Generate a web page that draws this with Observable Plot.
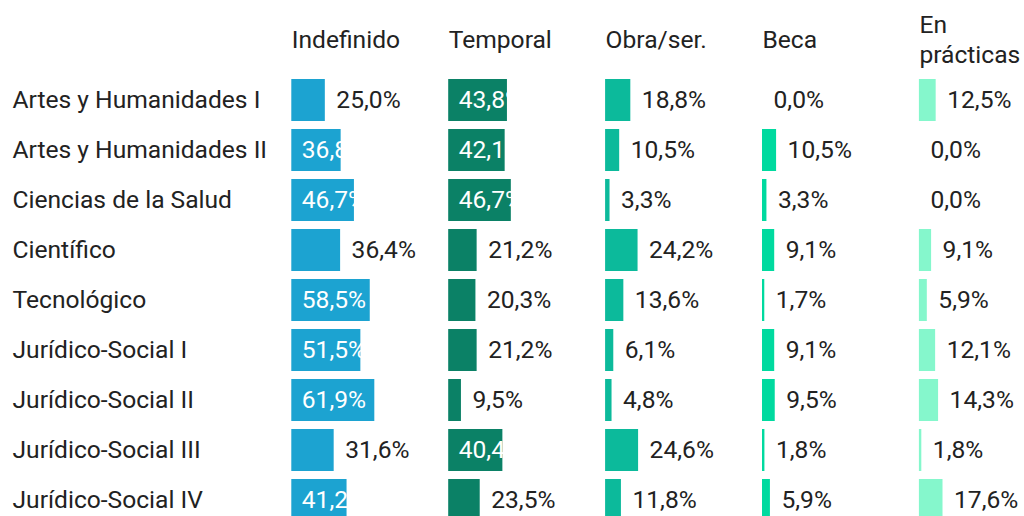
<!DOCTYPE html>
<html><head><meta charset="utf-8">
<script src="https://cdn.jsdelivr.net/npm/d3@7"></script>
<script src="https://cdn.jsdelivr.net/npm/@observablehq/plot@0.6"></script>
<style>html,body{margin:0;padding:0;background:#fff;overflow:hidden}</style>
</head><body><div id="chart"></div>
<script>
const ramas = ["Artes y Humanidades I","Artes y Humanidades II","Ciencias de la Salud","Científico","Tecnológico","Jurídico-Social I","Jurídico-Social II","Jurídico-Social III","Jurídico-Social IV"];
const tipos = ["Indefinido","Temporal","Obra/ser.","Beca","En prácticas"];
const indefinido = [25.0,36.8,46.7,36.4,58.5,51.5,61.9,31.6,41.2];
const temporal = [43.8,42.1,46.7,21.2,20.3,21.2,9.5,40.4,23.5];
const obra = [18.8,10.5,3.3,24.2,13.6,6.1,4.8,24.6,11.8];
const beca = [0.0,10.5,3.3,9.1,1.7,9.1,9.5,1.8,5.9];
const practicas = [12.5,0.0,0.0,9.1,5.9,12.1,14.3,1.8,17.6];
const colores = ["#1ca3d1","#0b8166","#0cba9b","#00da9f","#85f7cc"];

const series = [indefinido, temporal, obra, beca, practicas];
const data = tipos.flatMap((t,i) => ramas.map((r,j) => ({tipo:t, rama:r, valor:series[i][j]})));
const fmt = v => v.toFixed(1).replace(".", ",") + "%";
const inside = d => d.valor >= 36.6;

const chart = Plot.plot({
  width: 1024, height: 525,
  marginLeft: 291, marginRight: 0, marginTop: 75, marginBottom: 0,
  style: {fontFamily: "Roboto", fontSize: "24.6px", color: "#333", background: "#fff"},
  fx: {domain: tipos, range: [291.3, 1075.8], padding: 0, round: false, axis: null},
  y: {domain: ramas, paddingInner: 0.16, paddingOuter: 0.08, axis: null},
  x: {domain: [0, 117], axis: null},
  color: {domain: tipos, range: colores},
  marks: [
    Plot.barX(data, {fx: "tipo", y: "rama", x: "valor", fill: "tipo"}),
    Plot.text(data.filter(inside), {fx: "tipo", y: "rama", x: 0, text: d => fmt(d.valor), textAnchor: "start", dx: 10, fill: "white"}),
    Plot.text(data.filter(d => !inside(d)), {fx: "tipo", y: "rama", x: "valor", text: d => fmt(d.valor), textAnchor: "start", dx: 11, fill: "#222"}),
    Plot.text(tipos, {fx: d => d, text: d => d === "En prácticas" ? "En\nprácticas" : d, frameAnchor: "top-left", dy: -37, lineAnchor: "middle", textAnchor: "start", lineHeight: 1.22, fill: "#222"}),
    Plot.text(ramas, {fx: () => "Indefinido", y: d => d, text: d => d, frameAnchor: "left", textAnchor: "start", dx: -279.3, fill: "#222"})
  ]
});
document.getElementById("chart").appendChild(chart);
</script>
</body></html>
